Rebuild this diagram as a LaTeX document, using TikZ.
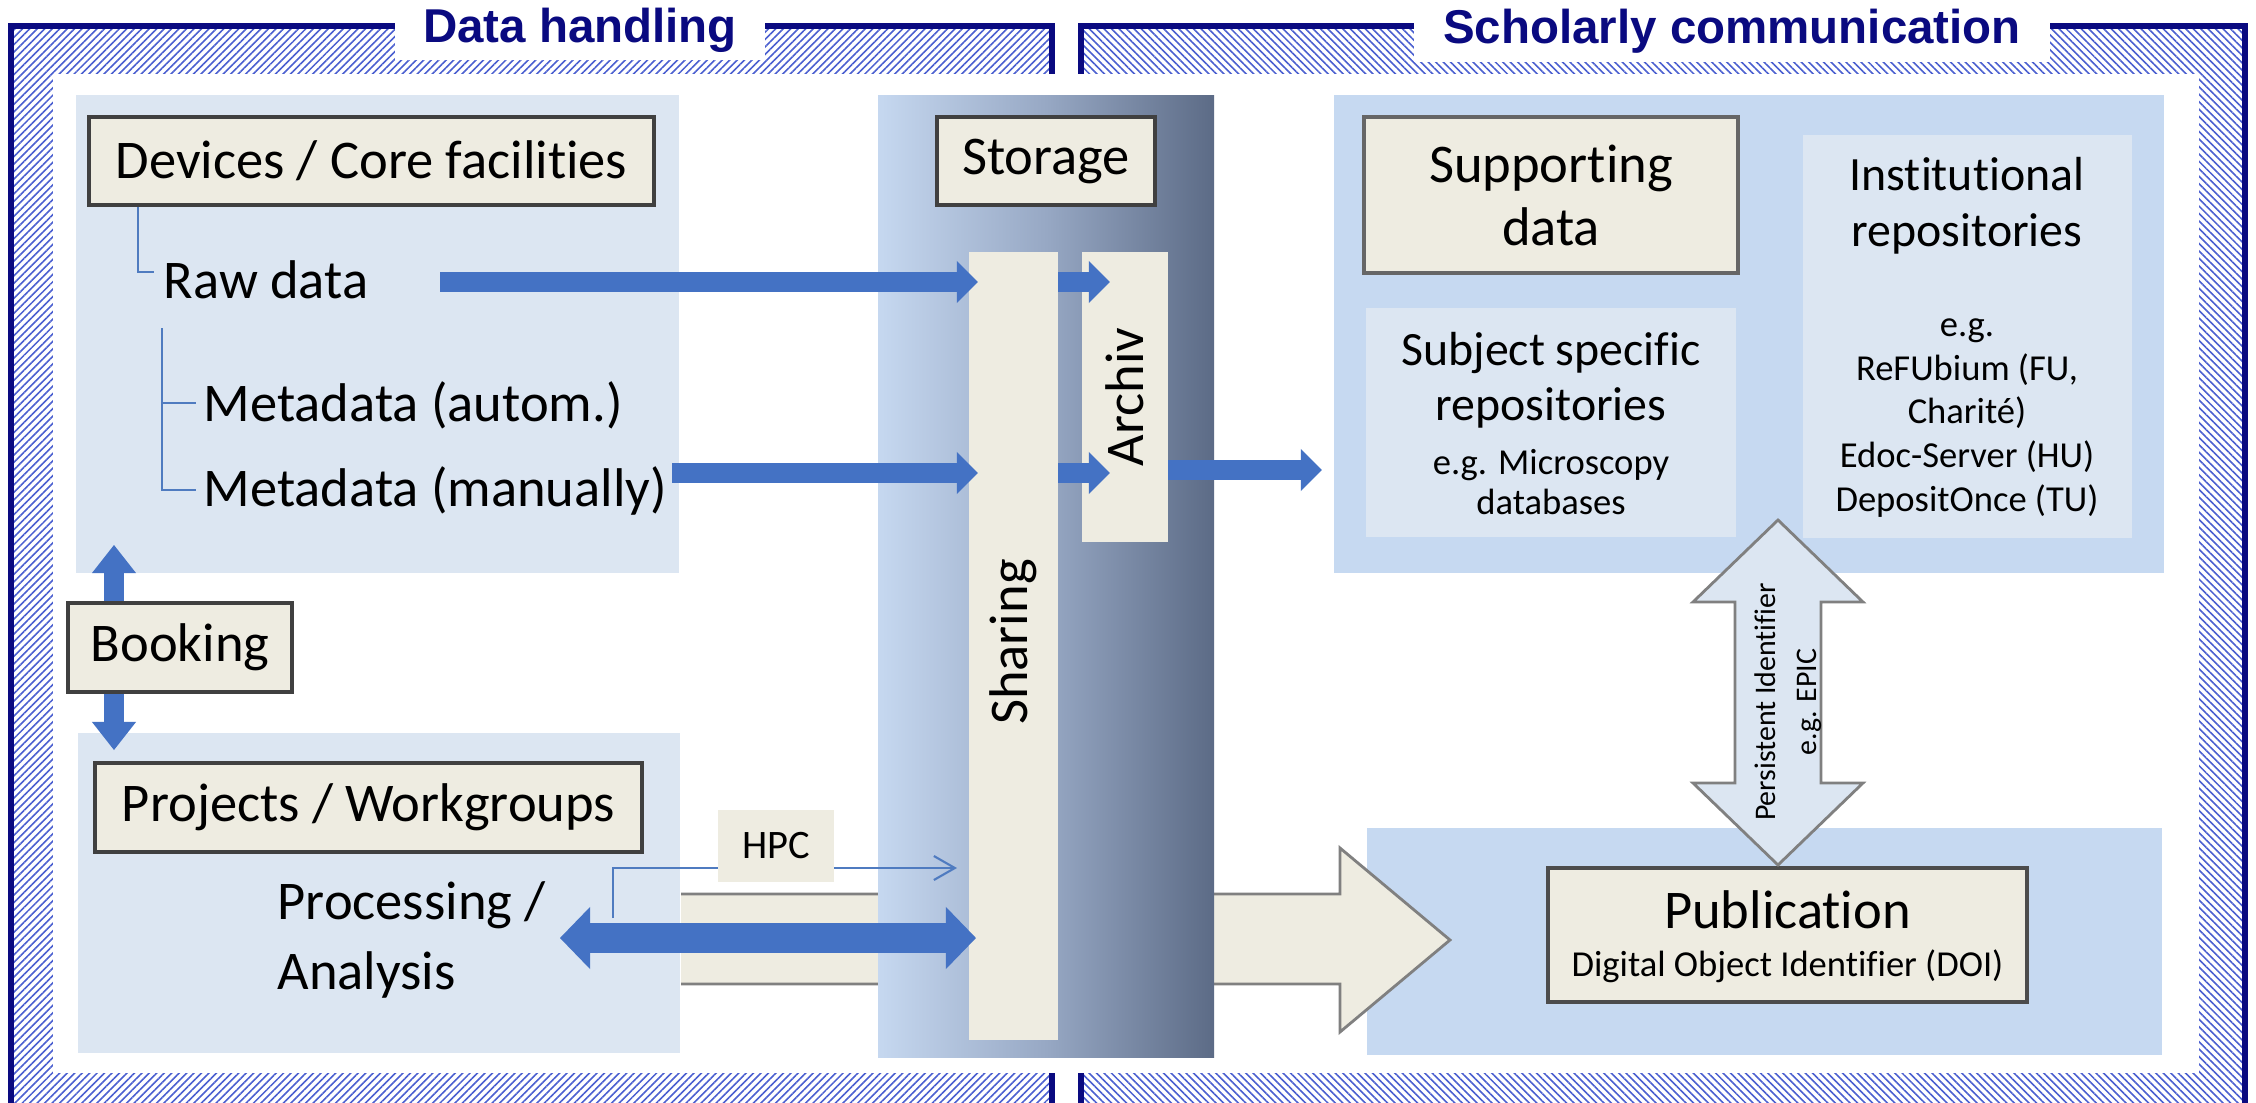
\documentclass[tikz,border=0pt]{standalone}
\usepackage{fontspec}
\setmainfont{Carlito}[Ligatures=NoCommon]
\newfontfamily\headfont{Liberation Sans}
\usetikzlibrary{arrows.meta}
\usetikzlibrary{patterns.meta}
\usetikzlibrary{calc}

\definecolor{navyline}{HTML}{0A0A80}
\definecolor{hatchblue}{HTML}{4A5FD0}
\definecolor{lightreg}{HTML}{DCE6F2}
\definecolor{bluereg}{HTML}{C6D9F1}
\definecolor{creamfill}{HTML}{EEECE1}
\definecolor{arrowblue}{HTML}{4472C4}
\definecolor{treeblue}{HTML}{4F7BC0}
\definecolor{storeL}{HTML}{C6D8F0}
\definecolor{storeM}{HTML}{97A8C4}
\definecolor{storeR}{HTML}{5C6B86}
\definecolor{outlinegray}{HTML}{808080}

\newcommand{\mainsize}{\fontsize{15.5}{18}\selectfont}
\newcommand{\headsize}{\fontsize{13.6}{15.8}\selectfont}
\newcommand{\egsize}{\fontsize{10.4}{12.2}\selectfont}
\newcommand{\hpcsize}{\fontsize{11.5}{13}\selectfont}
\newcommand{\pidsize}{\fontsize{8.5}{11.7}\selectfont}
\newcommand{\titlesize}{\headfont\bfseries\fontsize{13.5}{16}\selectfont}

\begin{document}
\begin{tikzpicture}[x=0.01cm,y=-0.01cm]
	\tikzset{
		panel/.style={draw=navyline,line width=1.6pt,pattern color=hatchblue},
		region/.style={fill=#1,inner sep=0pt,outer sep=0pt},
		cbox/.style={draw=black!75,line width=1pt,fill=creamfill,inner sep=0pt,font=\mainsize},
		cpad/.style={fill=creamfill,inner sep=0pt,outer sep=0pt},
		barrow/.style={draw=arrowblue,line width=0.2cm,-{Triangle[length=0.21cm,width=0.42cm,line width=0pt]}},
		proarrow/.style={draw=arrowblue,line width=0.3cm,{Triangle[length=0.3cm,width=0.62cm,line width=0pt]}-{Triangle[length=0.3cm,width=0.62cm,line width=0pt]}},
		thinline/.style={draw=treeblue,line width=0.6pt},
		outlined/.style={draw=outlinegray,line width=0.8pt},
		titlebox/.style={fill=white,text=navyline,font=\titlesize,inner sep=0pt}
	}
	
	% page
	\useasboundingbox (0,0) rectangle (2256,1103);
	\clip (0,0) rectangle (2256,1103);
	\fill[white] (0,0) rectangle (2256,1103);
	
	% hatched frames of the two panels
	\draw[panel,pattern={Lines[angle=45,distance=1.5pt,line width=0.45pt]}] (11,26) rectangle (1052,1140);
	\draw[panel,pattern={Lines[angle=-45,distance=1.5pt,line width=0.45pt]}] (1081,26) rectangle (2245,1140);
	\fill[white] (53,74) rectangle (2199,1073);
	
	% panel titles
	\node[titlebox,minimum width=3.69cm,minimum height=0.6cm] (dhtitle) at (580,30) {Data handling};
	\node[titlebox,minimum width=6.35cm,minimum height=0.62cm] (sctitle) at (1732,31) {Scholarly communication};
	
	% background blocks
	\node[region=lightreg,minimum width=6.03cm,minimum height=4.78cm] (ltop) at (377.5,334) {};
	\node[region=lightreg,minimum width=6.02cm,minimum height=3.20cm] (lbot) at (379,893) {};
	\node[region=bluereg,minimum width=8.30cm,minimum height=4.78cm] (rtop) at (1749,334) {};
	\node[region=bluereg,minimum width=7.95cm,minimum height=2.27cm] (rbot) at (1764.5,941.5) {};
	
	% big open arrow towards publication
	\filldraw[fill=creamfill,outlined] (681,894) -- (1340,894) -- (1340,848) -- (1450,940) -- (1340,1032) -- (1340,984) -- (681,984);
	
	% storage column
	\shade[left color=storeL,right color=storeR,middle color=storeM] (878,95) rectangle (1214,1057);
	\node[cbox,minimum width=2.18cm,minimum height=0.88cm] (storage) at (1046,161) {Storage};
	\node[cpad,minimum width=0.89cm,minimum height=7.88cm] (sharing) at (1013.5,646) {};
	\node[rotate=90,font=\mainsize] (sharingtxt) at (1013.5,642) {Sharing};
	\node[cpad,minimum width=0.86cm,minimum height=2.90cm] (archiv) at (1125,397) {};
	\node[rotate=90,font=\mainsize] (archivtxt) at (1125,397) {Archiv};
	
	% devices and data
	\node[cbox,minimum width=5.65cm,minimum height=0.88cm] (devices) at (371.5,161) {Devices / Core facilities};
	\node[font=\mainsize,anchor=base west,inner sep=0pt] (raw) at (163,298) {Raw data};
	\node[font=\mainsize,anchor=base west,inner sep=0pt] (mdauto) at (203,421) {Metadata (autom.)};
	\node[font=\mainsize,anchor=base west,inner sep=0pt] (mdman) at (203,506) {Metadata (manually)};
	
	% tree lines
	\coordinate (rawL) at (138,272);
	\draw[thinline] (devices.south -| rawL) -- (rawL) -- (154,272);
	\coordinate (mdL) at (162,328);
	\draw[thinline] (mdL) |- (196,490);
	\draw[thinline] (162,403) -- (196,403);
	
	% data flow arrows
	\coordinate (rawA) at (440,282);
	\coordinate (manA) at (672,473);
	\coordinate (outA) at (1168,470);
	\draw[barrow] (rawA) -- ($(rawA -| sharing.west)+(9,0)$);
	\draw[barrow] (manA) -- ($(manA -| sharing.west)+(9,0)$);
	\draw[barrow] (rawA -| sharing.east) -- ($(rawA -| archiv.west)+(28,0)$);
	\draw[barrow] (manA -| sharing.east) -- ($(manA -| archiv.west)+(28,0)$);
	\draw[barrow] (outA) -- ($(outA -| rtop.west)+(-12,0)$);
	
	% booking
	\coordinate (bookT) at (114,545);
	\coordinate (bookB) at (114,750);
	\draw[draw=arrowblue,line width=0.2cm,{Triangle[length=0.28cm,width=0.44cm,line width=0pt]}-{Triangle[length=0.28cm,width=0.44cm,line width=0pt]}] (bookT) -- (bookB);
	\node[cbox,minimum width=2.24cm,minimum height=0.89cm] (booking) at (180,647.5) {Booking};
	
	% projects and processing
	\node[cbox,minimum width=5.47cm,minimum height=0.89cm] (projects) at (368.5,807.5) {Projects / Workgroups};
	\node[font=\fontsize{15.5}{19.9}\selectfont,align=left,anchor=west,inner sep=0pt] (proc) at (277,940) {Processing /\\Analysis};
	\coordinate (hpcA) at (613,918);
	\coordinate (hpcB) at (957,868);
	\draw[thinline,-{Straight Barb[length=0.21cm,width=0.24cm]}] (hpcA) |- (hpcB);
	\node[cpad,font=\hpcsize,minimum width=1.16cm,minimum height=0.71cm] (hpc) at (776,846) {HPC};
	\coordinate (procL) at (560,938);
	\draw[proarrow] (procL) -- ($(procL -| sharing.west)+(7,0)$);
	
	% repositories
	\node[cbox,draw=black!60,align=center,font=\fontsize{15.5}{17.9}\selectfont,minimum width=3.74cm,minimum height=1.56cm] (supp) at (1551,195) {Supporting\\data};
	\node[region=lightreg,minimum width=3.70cm,minimum height=2.29cm] (subj) at (1551,422.5) {};
	\node[region=lightreg,minimum width=3.29cm,minimum height=4.03cm] (inst) at (1967.5,336.5) {};
	\node[font=\fontsize{13.6}{15.6}\selectfont,align=center] (subjtxt) at (1551,380) {Subject specific\\repositories};
	\node[font=\fontsize{10.4}{11.4}\selectfont,align=center] (subjeg) at (1551,482) {e.g. Microscopy\\databases};
	\node[font=\fontsize{13.6}{15.9}\selectfont,align=center] (insttxt) at (1967,206) {Institutional\\repositories};
	\node[font=\fontsize{10.4}{12.4}\selectfont,align=center] (insteg) at (1967,418) {e.g.\\ReFUbium (FU,\\Charité)\\Edoc-Server (HU)\\DepositOnce (TU)};
	
	% publication
	\node[cbox,draw=black!70,minimum width=4.79cm,minimum height=1.34cm] (pub) at (1787.5,935) {};
	\node[font=\mainsize] (pubtitle) at (1787.5,910) {Publication};
	\node[font=\egsize] (pubdoi) at (1787.5,966) {Digital Object Identifier (DOI)};
	
	% persistent identifier arrow
	\filldraw[fill=lightreg,outlined] (1778,520) -- (1863,602) -- (1821,602) -- (1821,783) -- (1863,783) -- (1778,865) -- (1693,783) -- (1735,783) -- (1735,602) -- (1693,602) -- cycle;
	\node[rotate=90,font=\pidsize,align=center] (pidtxt) at (1788,702) {Persistent Identifier\\e.g. EPIC};
	
\end{tikzpicture}
\end{document}
